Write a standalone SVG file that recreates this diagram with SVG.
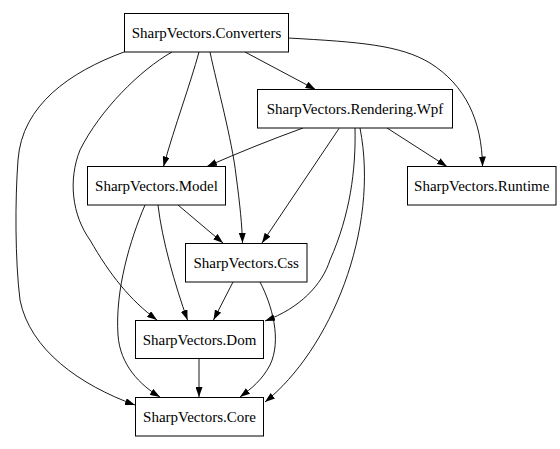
<svg xmlns="http://www.w3.org/2000/svg" width="560" height="449" viewBox="0 0 560 449">
  <style>
    .node rect { fill: #fff; stroke: #000; stroke-width: 1; }
    .node text { font-family: "Liberation Serif", "Times New Roman", serif; font-size: 15px; fill: #000; text-anchor: middle; }
    .edge { fill: none; stroke: #000; stroke-width: 0.9; marker-end: url(#arrow); }
  </style>
  <defs>
    <marker id="arrow" viewBox="0 0 10 7" refX="10" refY="3.5" markerWidth="10" markerHeight="7" markerUnits="userSpaceOnUse" orient="auto">
      <path d="M0,0 L10,3.5 L0,7 z" fill="#000"/>
    </marker>
  </defs>
  <rect width="560" height="449" fill="#fff"/>
  <g id="connectors">
    <path class="edge" d="M245,52 L315.5,89.5"/>
    <path class="edge" d="M288,38 C360,42 400,45 430,63 C465,85 482,120 482.5,166.5"/>
    <path class="edge" d="M199,52 C190,85 175,125 163.5,166.5"/>
    <path class="edge" d="M210,52 C217,85 232,140 236,175 C240,205 242,225 242.5,243"/>
    <path class="edge" d="M172,52 C140,70 100,110 80,150 C68,180 72,215 90,240 C110,275 130,300 157,320"/>
    <path class="edge" d="M124,52 C70,72 22,105 18,160 C15,200 15,260 20,300 C30,350 80,385 135,405"/>
    <path class="edge" d="M303,128 C270,140 240,152 207,166.5"/>
    <path class="edge" d="M339,128.5 L262,243"/>
    <path class="edge" d="M387,128 L447,166.5"/>
    <path class="edge" d="M355,128 C356,170 350,215 330,260 C322,285 300,308 265,321"/>
    <path class="edge" d="M360,128 C380,230 330,350 265,402"/>
    <path class="edge" d="M233,282 L213.5,320"/>
    <path class="edge" d="M260,282 C272,305 282,340 270,365 C262,380 252,388 240,397"/>
    <path class="edge" d="M178,205 L223,243"/>
    <path class="edge" d="M158,205 C162,240 175,285 187.5,320"/>
    <path class="edge" d="M145,205 C130,240 115,290 118,335 C120,365 140,385 160,397"/>
    <path class="edge" d="M199,358.5 L199,397"/>
  </g>
  <g id="converters" class="node">
    <rect x="124.5" y="13.5" width="164" height="38.5"/>
    <text x="206.5" y="38">SharpVectors.Converters</text>
  </g>
  <g id="rendering-wpf" class="node">
    <rect x="257.5" y="89.5" width="195" height="38.5"/>
    <text x="355" y="114">SharpVectors.Rendering.Wpf</text>
  </g>
  <g id="model" class="node">
    <rect x="87.5" y="166.5" width="138" height="38.5"/>
    <text x="156.5" y="191">SharpVectors.Model</text>
  </g>
  <g id="runtime" class="node">
    <rect x="407.5" y="166.5" width="148.5" height="38.5"/>
    <text x="481.75" y="191">SharpVectors.Runtime</text>
  </g>
  <g id="css" class="node">
    <rect x="185.5" y="243.5" width="121.5" height="38.5"/>
    <text x="246.25" y="268">SharpVectors.Css</text>
  </g>
  <g id="dom" class="node">
    <rect x="135.5" y="320.5" width="128" height="38"/>
    <text x="199.5" y="344.5">SharpVectors.Dom</text>
  </g>
  <g id="core" class="node">
    <rect x="135.5" y="397.5" width="128" height="38.5"/>
    <text x="199.5" y="422">SharpVectors.Core</text>
  </g>
</svg>
